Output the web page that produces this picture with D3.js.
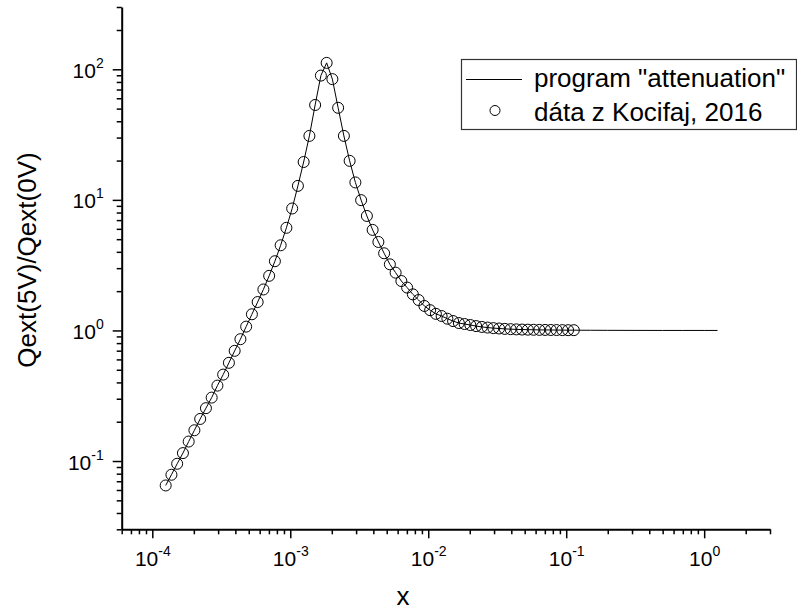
<!DOCTYPE html>
<html>
<head>
<meta charset="utf-8">
<script src="https://cdn.jsdelivr.net/npm/d3@7"></script>
<style>
body { margin: 0; background: #fff; }
svg { display: block; font-family: "Liberation Sans", Arial, sans-serif; }
</style>
</head>
<body>
<script>
const width = 797;
const height = 611;

// measured points (Kocifaj, 2016)
const xData = [
    1.25e-4, 1.376e-4, 1.514e-4, 1.667e-4, 1.835e-4, 2.019e-4, 2.223e-4, 2.447e-4, 2.693e-4, 2.964e-4, 3.263e-4, 3.591e-4,
    3.953e-4, 4.351e-4, 4.789e-4, 5.271e-4, 5.802e-4, 6.386e-4, 7.029e-4, 7.737e-4, 8.516e-4, 9.374e-4, 1.032e-3, 1.136e-3,
    1.25e-3, 1.376e-3, 1.514e-3, 1.667e-3, 1.835e-3, 2.019e-3, 2.223e-3, 2.447e-3, 2.693e-3, 2.964e-3, 3.263e-3, 3.591e-3,
    3.953e-3, 4.351e-3, 4.789e-3, 5.271e-3, 5.802e-3, 6.386e-3, 7.029e-3, 7.737e-3, 8.516e-3, 9.374e-3, 1.032e-2, 1.136e-2,
    1.25e-2, 1.376e-2, 1.514e-2, 1.667e-2, 1.835e-2, 2.019e-2, 2.223e-2, 2.447e-2, 2.693e-2, 2.964e-2, 3.263e-2, 3.591e-2,
    3.953e-2, 4.351e-2, 4.789e-2, 5.271e-2, 5.802e-2, 6.386e-2, 7.029e-2, 7.737e-2, 8.516e-2, 9.374e-2, 0.1032, 0.1136
];
const yData = [
    0.065, 0.0785, 0.0953, 0.115, 0.141, 0.172, 0.21, 0.254, 0.306, 0.378, 0.459, 0.565,
    0.698, 0.857, 1.07, 1.33, 1.65, 2.06, 2.62, 3.39, 4.49, 6.11, 8.59, 12.8,
    19.5, 30.9, 53.3, 89.5, 112, 84.1, 50.7, 30.9, 19.9, 13.6, 9.95, 7.53,
    5.89, 4.76, 3.9, 3.21, 2.77, 2.39, 2.13, 1.89, 1.71, 1.54, 1.43, 1.34,
    1.29, 1.23, 1.18, 1.14, 1.12, 1.1, 1.08, 1.064, 1.052, 1.042, 1.035, 1.028,
    1.023, 1.019, 1.016, 1.014, 1.012, 1.01, 1.009, 1.008, 1.007, 1.006, 1.005, 1.005
];

// program output continues past the measured range
const tailX = [0.125, 0.15, 0.2, 0.3, 0.5, 0.7, 1.0, 1.25];
const tailY = [1.004, 1.003, 1.002, 1.001, 1.0, 1.0, 1.0, 1.0];

const xMajor = [1e-4, 1e-3, 1e-2, 1e-1, 1];
const xExp = ["-4", "-3", "-2", "-1", "0"];
const yMajor = [1e-1, 1, 10, 100];
const yExp = ["-1", "0", "1", "2"];
const legendLabels = ['program "attenuation"', 'dáta z Kocifaj, 2016'];

const svg = d3.select("body")
    .append("svg")
    .attr("width", width)
    .attr("height", height);

const x = d3.scaleLog().domain([6e-5, 3]).range([121.7, 770]);
const y = d3.scaleLog().domain([0.03, 300]).range([529.3, 7]);

function isMajor(list, d) {
    return list.some(m => Math.abs(m - d) / m < 1e-6);
}
const xMinor = x.ticks().filter(d => !isMajor(xMajor, d));
const yMinor = y.ticks().filter(d => !isMajor(yMajor, d));

function superscript(sel, exps) {
    sel.selectAll(".tick text").each(function(d, i) {
        const t = d3.select(this).text(null);
        t.append("tspan").text("10");
        t.append("tspan").attr("dy", -10).attr("font-size", 14).text(exps[i]);
    });
}

// x axis
const gx = svg.append("g").attr("transform", `translate(0,${y.range()[0]})`);
gx.append("g")
    .call(d3.axisBottom(x).tickValues(xMinor).tickSize(5).tickSizeOuter(0).tickFormat(""))
    .call(g => g.select(".domain").remove());
gx.append("g")
    .call(d3.axisBottom(x).tickValues(xMajor).tickSize(9).tickSizeOuter(0))
    .call(g => g.selectAll(".tick text").attr("dy", null).attr("y", 37).attr("font-size", 21))
    .call(g => superscript(g, xExp));

// y axis
const gy = svg.append("g").attr("transform", `translate(${x.range()[0]},0)`);
gy.append("g")
    .call(d3.axisLeft(y).tickValues(yMinor).tickSize(5).tickSizeOuter(0).tickFormat(""))
    .call(g => g.select(".domain").remove());
gy.append("g")
    .call(d3.axisLeft(y).tickValues(yMajor).tickSize(9).tickSizeOuter(0))
    .call(g => g.selectAll(".tick text").attr("dy", 8).attr("x", -18).attr("font-size", 21))
    .call(g => superscript(g, yExp));

svg.selectAll(".domain").attr("stroke-width", 2);
svg.selectAll(".tick line").attr("stroke-width", 1.5);
svg.selectAll(".tick text").attr("fill", "#000");

// axis titles
svg.append("text")
    .attr("x", 403)
    .attr("y", 605)
    .attr("text-anchor", "middle")
    .attr("font-size", 26)
    .text("x");

svg.append("text")
    .attr("transform", "translate(36,260) rotate(-90)")
    .attr("text-anchor", "middle")
    .attr("font-size", 26)
    .text("Qext(5V)/Qext(0V)");

// curve + points
const lineX = xData.concat(tailX);
const lineY = yData.concat(tailY);
const line = d3.line()
    .x(i => x(lineX[i]))
    .y(i => y(lineY[i]));

svg.append("path")
    .datum(d3.range(lineX.length))
    .attr("d", line)
    .attr("fill", "none")
    .attr("stroke", "#000")
    .attr("stroke-width", 1);

svg.append("g")
    .selectAll("circle")
    .data(d3.range(xData.length))
    .join("circle")
    .attr("cx", i => x(xData[i]))
    .attr("cy", i => y(yData[i]))
    .attr("r", 5.5)
    .attr("fill", "none")
    .attr("stroke", "#000")
    .attr("stroke-width", 1);

// legend
const legend = svg.append("g");
legend.append("rect")
    .attr("x", 461.5)
    .attr("y", 59.5)
    .attr("width", 335)
    .attr("height", 70)
    .attr("fill", "#fff")
    .attr("stroke", "#333")
    .attr("stroke-width", 1.2);
legend.append("line")
    .attr("x1", 466).attr("x2", 522)
    .attr("y1", 79.5).attr("y2", 79.5)
    .attr("stroke", "#000");
legend.append("circle")
    .attr("cx", 495).attr("cy", 110.5)
    .attr("r", 5)
    .attr("fill", "none")
    .attr("stroke", "#000");
legend.selectAll("text.lab")
    .data(legendLabels)
    .join("text")
    .attr("class", "lab")
    .attr("x", 534)
    .attr("y", (d, i) => 87 + i * 34)
    .attr("font-size", 26)
    .text(d => d);
</script>
</body>
</html>
